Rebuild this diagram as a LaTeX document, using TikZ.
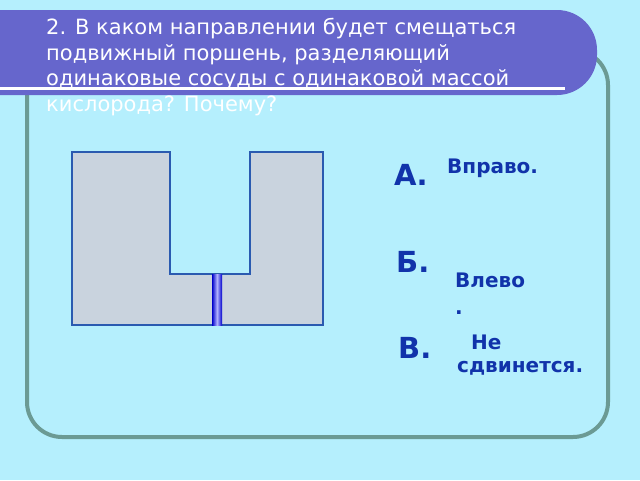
\documentclass[tikz,border=0pt]{standalone}
\usepackage{fontspec}
\setmainfont{DejaVu Sans}
\definecolor{bg}{HTML}{B5EFFD}
\definecolor{frame}{HTML}{6B9A94}
\definecolor{banner}{HTML}{6666CC}
\definecolor{vessel}{HTML}{C9D3DE}
\definecolor{vline}{HTML}{2A5AB0}
\definecolor{ans}{HTML}{1133AA}
\tikzset{
  letter/.style={anchor=west,font=\bfseries\fontsize{29}{30}\selectfont,text=ans,inner sep=0pt},
  answer/.style={anchor=west,font=\bfseries\fontsize{20}{23}\selectfont,text=ans,inner sep=0pt,align=left},
}
\begin{document}
\begin{tikzpicture}[x=1pt,y=-1pt]
\useasboundingbox (0,0) rectangle (640,480);
\fill[bg] (0,0) rectangle (640,480);
% panel
\draw[frame,line width=4pt,rounded corners=35pt] (27,50) rectangle (608,437);
% banner
\fill[banner,rounded corners=40pt] (-50,10) rectangle (597,95);
\draw[white,line width=3pt] (0,88) -- (565,88);
\node[anchor=north west,text=white,align=left,inner sep=0pt,
  font=\fontsize{21}{25.5}\selectfont] (title) at (46,18)
  {2. В каком направлении будет смещаться\\подвижный поршень, разделяющий\\одинаковые сосуды с одинаковой массой\\кислорода? Почему?};
% vessel
\draw[vline,fill=vessel,line width=1.5pt] (72,152) -- (170,152) -- (170,274) -- (250,274)
  -- (250,152) -- (323,152) -- (323,325) -- (72,325) -- cycle;
\shade[left color=blue!80!black,right color=blue!80!black,middle color=blue!30!white] (212,274) rectangle (222,325);
% answers
\node[letter] (a) at (394,175) {А.};
\node[answer] (ra) at (447,168) {Вправо.};
\node[letter] (b) at (396,262) {Б.};
\node[answer] (rb) at (455,294) {Влево\\[4pt].};
\node[letter] (c) at (398,348) {В.};
\node[answer] (rc) at (457,355) {\ \ Не\\сдвинется.};
\end{tikzpicture}
\end{document}
